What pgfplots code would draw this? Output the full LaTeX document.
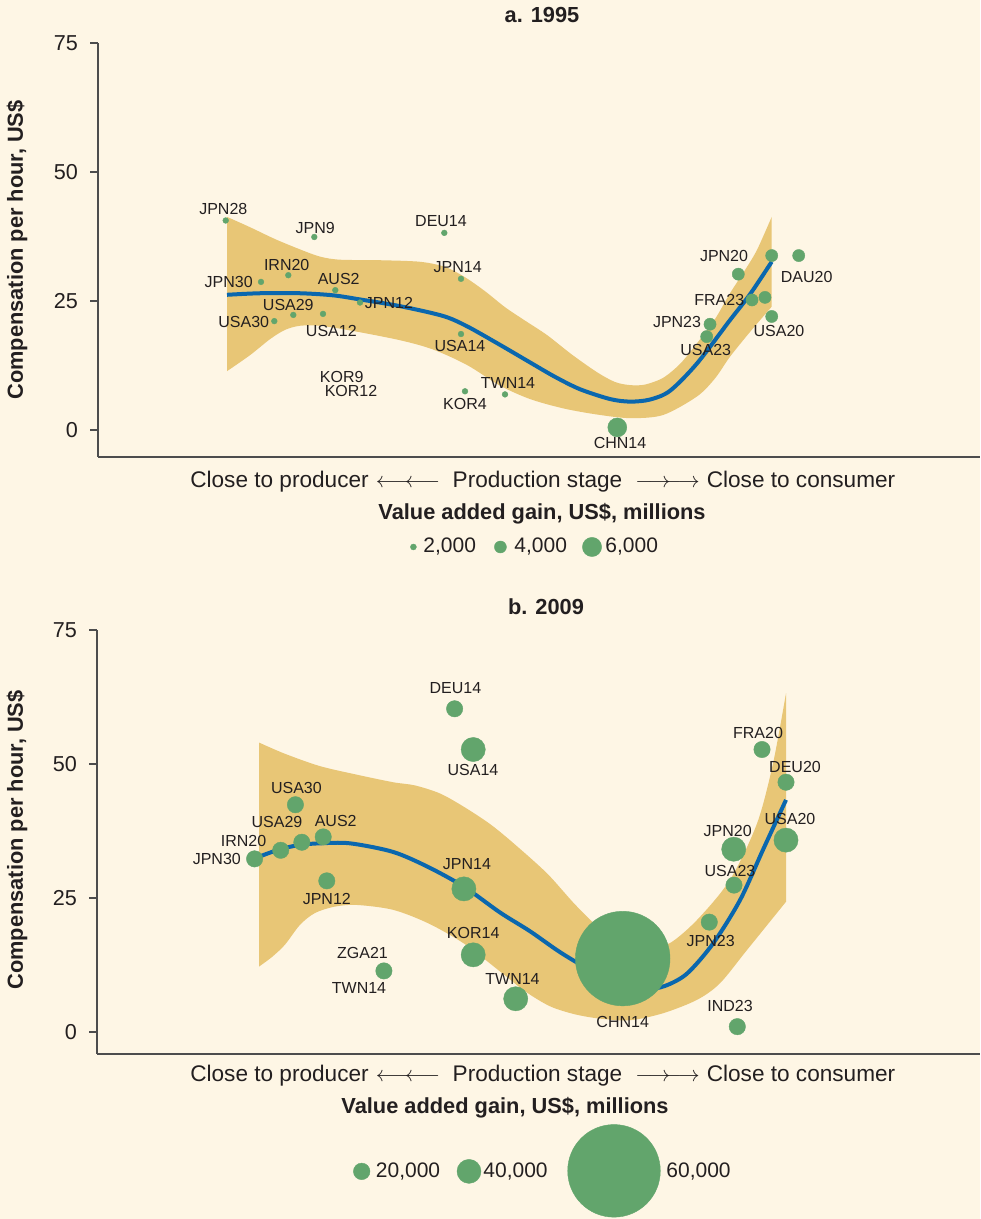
\documentclass[border=0pt]{standalone}
\usepackage{fontspec}
\setmainfont{Liberation Sans}
\usepackage{pgfplots}
\pgfplotsset{compat=1.18}
\usepgfplotslibrary{fillbetween}
\definecolor{bg}{HTML}{FEF6E5}
\definecolor{band}{HTML}{E8C676}
\definecolor{ptg}{HTML}{62A56C}
\definecolor{lineb}{HTML}{0A67AE}
\definecolor{txt}{HTML}{231F20}
\definecolor{axc}{HTML}{4D4D4D}
\pagecolor{bg}
\tikzset{
  lab/.style={font=\fontsize{8}{9}\selectfont, text=txt, inner sep=0pt},
  big/.style={font=\fontsize{10.5}{12}\selectfont, text=txt, inner sep=0pt},
  bigger/.style={font=\fontsize{11.3}{13}\selectfont, text=txt, inner sep=0pt, anchor=base},
  bigb/.style={font=\bfseries\fontsize{10.9}{12}\selectfont, text=txt, inner sep=0pt},
}
\pgfplotsset{
  panel/.style={
    scale only axis, anchor=south west, clip=false,
    xmax=980, ymax=75,
    axis lines*=left,
    axis line style={-, draw=axc, line width=0.8pt},
    every outer x axis line/.append style={-},
    every outer y axis line/.append style={-},
    xtick=\empty, ytick={0,25,50,75},
    tick align=outside, major tick length=4pt,
    tick style={draw=axc, line width=0.8pt},
    yticklabel style={font=\fontsize{10.8}{12}\selectfont, text=txt, xshift=-2.5pt},
    /pgf/number format/assume math mode=true,
  },
  dots/.style={only marks, mark=*, color=ptg, mark options={draw=ptg, fill=ptg, line width=0.2pt}},
}
\begin{document}
\begin{tikzpicture}
\path (0,0) rectangle (490pt,609.5pt);

% ---------------- a. 1995 ----------------
\begin{axis}[panel, at={(49pt,381pt)}, width=441pt, height=207pt, xmin=98, ymin=-5.23]
\addplot[name path=U1, draw=none, smooth] coordinates {
(227,41.3) (250,39.3) (275,37.0) (300,35.0) (320,33.6) (340,33.0) (380,32.9) (420,32.6) (445,31.6) (465,29.6) (485,26.9) (505,23.8) (525,21.2) (547,18.4) (572,14.6) (597,11.2) (615,9.3) (630,8.7) (645,8.8) (663,10.1) (680,12.8) (697,16.8) (715,21.5) (730,26.5) (745,31.0) (757,34.9) (771.7,41.3)};
\addplot[name path=L1, draw=none, smooth] coordinates {
(227,11.4) (250,14.5) (270,17.6) (285,19.4) (300,20.2) (320,20.2) (350,19.3) (400,17.4) (433,15.6) (467,12.6) (500,8.6) (530,6.0) (563,4.2) (597,3.0) (630,2.3) (663,2.9) (697,6.5) (715,10.0) (730,14.2) (750,19.0) (771.7,23.9)};
\addplot[fill=band, draw=none] fill between[of=U1 and L1];
\addplot[lineb, line width=2pt, smooth] coordinates {
(227,26.2) (260,26.5) (300,26.5) (333,26.1) (360,25.3) (400,24.0) (443,22.1) (467,20.1) (500,16.5) (530,13.1) (555,10.3) (580,7.9) (610,6.0) (630,5.5) (650,5.9) (670,7.6) (697,12.9) (730,21.3) (750,26.3) (771.7,32.6)};
% value added ~2,000
\addplot[dots, mark size=1.45pt] coordinates {
(225.7,40.6) (314.3,37.4) (444.3,38.2) (288.3,30.0) (261,28.7) (335.3,27.1) (461,29.3) (360,24.7) (293.3,22.3) (323,22.5) (274.3,21.1) (461,18.6) (465,7.5) (505,6.9)};
% ~4,000
\addplot[dots, mark size=3.05pt] coordinates {
(771.7,33.8) (798.7,33.8) (738.3,30.2) (752,25.2) (765,25.7) (771.7,22.0) (710,20.5) (706.7,18.1)};
% ~6,000
\addplot[dots, mark size=4.75pt] coordinates {(617.3,0.5)};
% legend
\addplot[dots, mark size=1.5pt] coordinates {(413.4,-22.67)};
\addplot[dots, mark size=3.0pt] coordinates {(500.4,-22.67)};
\addplot[dots, mark size=4.8pt] coordinates {(592,-22.67)};
\node[big, anchor=west] at (axis cs:423,-22.67) {2,000};
\node[big, anchor=west] at (axis cs:514,-22.67) {4,000};
\node[big, anchor=west] at (axis cs:605,-22.67) {6,000};
% labels
\node[lab] at (axis cs:223.3,42.8) {JPN28};
\node[lab] at (axis cs:315.3,39.2) {JPN9};
\node[lab] at (axis cs:441,40.4) {DEU14};
\node[lab] at (axis cs:286.7,32.0) {IRN20};
\node[lab] at (axis cs:228.7,28.7) {JPN30};
\node[lab] at (axis cs:338.7,29.2) {AUS2};
\node[lab] at (axis cs:457.7,31.5) {JPN14};
\node[lab] at (axis cs:288.3,24.2) {USA29};
\node[lab] at (axis cs:389,24.6) {JPN12};
\node[lab] at (axis cs:243.7,20.9) {USA30};
\node[lab] at (axis cs:331.3,19.1) {USA12};
\node[lab] at (axis cs:460,16.3) {USA14};
\node[lab] at (axis cs:341.7,10.2) {KOR9};
\node[lab] at (axis cs:351,7.6) {KOR12};
\node[lab] at (axis cs:465,5.0) {KOR4};
\node[lab] at (axis cs:508,9.1) {TWN14};
\node[lab] at (axis cs:724,33.7) {JPN20};
\node[lab] at (axis cs:806.7,29.6) {DAU20};
\node[lab] at (axis cs:719.3,25.2) {FRA23};
\node[lab] at (axis cs:677,21.0) {JPN23};
\node[lab] at (axis cs:779,19.2) {USA20};
\node[lab] at (axis cs:705.7,15.6) {USA23};
\node[lab] at (axis cs:620,-2.6) {CHN14};
\end{axis}

% ---------------- b. 2009 ----------------
\begin{axis}[panel, at={(48.5pt,82.5pt)}, width=441.5pt, height=212pt, xmin=97, ymin=-4.1]
\addplot[name path=U2, draw=none, smooth] coordinates {
(259,54.0) (285,51.9) (320,49.6) (357,48.0) (393,46.6) (415,46.0) (440,44.5) (464,42.0) (490,38.8) (513,35.3) (547,29.6) (575,23.8) (600,19.3) (625,16.6) (650,15.9) (670,16.6) (697,20.9) (730,28.4) (757,38.9) (773,50.1) (786,63.2)};
\addplot[name path=L2, draw=none, smooth] coordinates {
(259,12.2) (272,14.0) (285,16.3) (300,20.0) (315,22.2) (335,23.4) (357,23.7) (393,22.8) (428,20.3) (464,16.5) (500,11.3) (525,7.6) (550,4.8) (575,3.3) (600,2.5) (630,2.2) (663,3.5) (697,6.0) (720,9.1) (747,15.3) (786,24.3)};
\addplot[fill=band, draw=none] fill between[of=U2 and L2];
\addplot[lineb, line width=2pt, smooth] coordinates {
(259,32.7) (280,34.1) (300,34.9) (320,35.2) (350,35.2) (393,33.6) (428,30.8) (464,27.1) (500,22.3) (530,18.8) (560,14.9) (590,11.6) (620,9.2) (645,8.0) (665,8.6) (687,10.9) (713,16.5) (740,24.6) (763,34.0) (786,43.3)};
% ~20,000
\addplot[dots, mark size=4.1pt] coordinates {
(454.6,60.3) (295.4,42.4) (323.2,36.4) (301.8,35.4) (280.7,33.9) (254.6,32.3) (326.8,28.2) (383.9,11.4) (762,52.7) (786,46.6) (734,27.4) (709.3,20.5) (737.3,1.0)};
% ~40,000
\addplot[dots, mark size=6.05pt] coordinates {
(473.2,52.7) (463.9,26.7) (473.2,14.4) (515.7,6.2) (786,35.8) (733.7,34.1)};
% ~60,000
\addplot[dots, mark size=23.65pt] coordinates {(622.7,13.7)};
% legend
\addplot[dots, mark size=4.15pt] coordinates {(361.7,-26.0)};
\addplot[dots, mark size=6.0pt] coordinates {(469,-26.0)};
\addplot[dots, mark size=23.15pt] coordinates {(614,-25.9)};
\node[big, anchor=west] at (axis cs:375.5,-26.0) {20,000};
\node[big, anchor=west] at (axis cs:483,-26.0) {40,000};
\node[big, anchor=west] at (axis cs:666,-26.0) {60,000};
% labels
\node[lab] at (axis cs:455.4,64.2) {DEU14};
\node[lab] at (axis cs:473,48.8) {USA14};
\node[lab] at (axis cs:296.4,45.6) {USA30};
\node[lab] at (axis cs:277,39.1) {USA29};
\node[lab] at (axis cs:335.7,39.4) {AUS2};
\node[lab] at (axis cs:243.6,35.7) {IRN20};
\node[lab] at (axis cs:216.8,32.2) {JPN30};
\node[lab] at (axis cs:326.8,24.9) {JPN12};
\node[lab] at (axis cs:467,31.3) {JPN14};
\node[lab] at (axis cs:473.2,18.4) {KOR14};
\node[lab] at (axis cs:362.5,14.7) {ZGA21};
\node[lab] at (axis cs:359,8.3) {TWN14};
\node[lab] at (axis cs:512.5,9.8) {TWN14};
\node[lab] at (axis cs:758,55.7) {FRA20};
\node[lab] at (axis cs:795,49.5) {DEU20};
\node[lab] at (axis cs:790,39.7) {USA20};
\node[lab] at (axis cs:727.7,37.5) {JPN20};
\node[lab] at (axis cs:730,30.1) {USA23};
\node[lab] at (axis cs:710.7,17.0) {JPN23};
\node[lab] at (axis cs:730,4.9) {IND23};
\node[lab] at (axis cs:622.7,1.9) {CHN14};
\end{axis}

% ---------------- texts ----------------
\node[bigb] at (271pt,602pt) {a. 1995};
\node[bigb] at (273pt,306pt) {b. 2009};
\node[bigb, rotate=90] at (8.5pt,484.5pt) {Compensation per hour, US\$};
\node[bigb, rotate=90] at (8.5pt,189.5pt) {Compensation per hour, US\$};
\foreach \yy in {365.5pt,68.7pt} {
  \node[bigger] at (139.75pt,\yy) {Close to producer};
  \node[bigger] at (204pt,\yy) {$\longleftarrow\mkern-5mu\longleftarrow$};
  \node[bigger] at (268.75pt,\yy) {Production stage};
  \node[bigger] at (333.75pt,\yy) {$\longrightarrow\mkern-5mu\longrightarrow$};
  \node[bigger] at (400.5pt,\yy) {Close to consumer};
}
\node[bigb] at (271pt,352.5pt) {Value added gain, US\$, millions};
\node[bigb] at (252.5pt,55.5pt) {Value added gain, US\$, millions};
\pgfresetboundingbox
\useasboundingbox (0,0) rectangle (490pt,609.5pt);
\end{tikzpicture}
\end{document}
